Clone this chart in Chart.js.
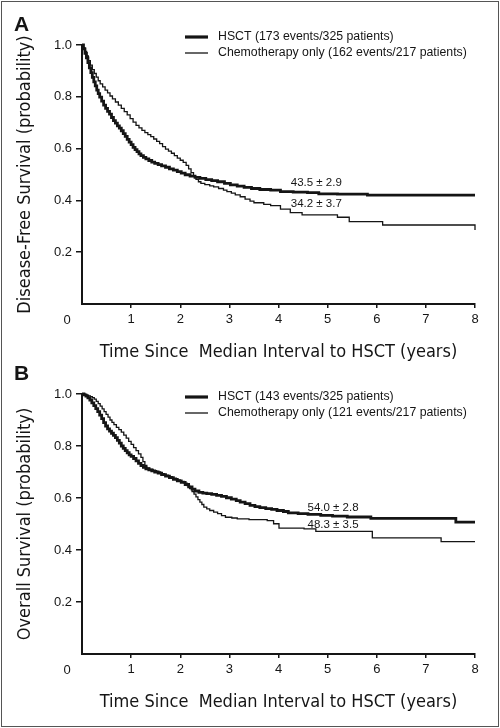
<!DOCTYPE html>
<html>
<head>
<meta charset="utf-8">
<script src="https://cdn.jsdelivr.net/npm/chart.js@4.4.1/dist/chart.umd.min.js"></script>
<style>
    html, body { margin: 0; padding: 0; background: #fff; }
    #frame { position: absolute; left: 1px; top: 1px; width: 496px; height: 724px; border: 1px solid #555; }
    canvas { position: absolute; left: 0; }
    #chartA { top: 0; }
    #chartB { top: 349px; }
</style>
</head>
<body>
<div id="frame"></div>
<canvas id="chartA" width="500" height="364"></canvas>
<canvas id="chartB" width="500" height="379"></canvas>
<script>
// 축 범위
const yearMax = 8;
const probStep = 0.2;

// A: 무병생존 (Disease-Free Survival)
const dfsHsctT = [0, 0.03, 0.06, 0.09, 0.12, 0.15, 0.18, 0.21, 0.24, 0.27, 0.30, 0.33, 0.36, 0.40, 0.44, 0.48, 0.52, 0.56, 0.60, 0.64, 0.68, 0.72, 0.76, 0.80, 0.84, 0.88, 0.92, 0.96, 1.00, 1.04, 1.08, 1.12, 1.16, 1.20, 1.25, 1.30, 1.36, 1.42, 1.48, 1.55, 1.62, 1.70, 1.78, 1.86, 1.94, 2.02, 2.10, 2.20, 2.30, 2.40, 2.52, 2.64, 2.76, 2.90, 3.02, 3.16, 3.30, 3.45, 3.62, 3.84, 4.04, 4.30, 4.59, 4.82, 5.20, 5.81, 8.0];
const dfsHsctS = [1.0, 0.985, 0.968, 0.950, 0.932, 0.912, 0.893, 0.875, 0.858, 0.842, 0.826, 0.812, 0.799, 0.783, 0.768, 0.755, 0.744, 0.733, 0.720, 0.708, 0.698, 0.688, 0.679, 0.669, 0.658, 0.647, 0.636, 0.625, 0.615, 0.605, 0.596, 0.588, 0.580, 0.573, 0.566, 0.560, 0.554, 0.548, 0.543, 0.538, 0.533, 0.528, 0.522, 0.517, 0.511, 0.505, 0.499, 0.494, 0.489, 0.485, 0.480, 0.476, 0.472, 0.466, 0.460, 0.455, 0.450, 0.446, 0.442, 0.440, 0.434, 0.432, 0.430, 0.425, 0.424, 0.420, 0.420];
const dfsChemoT = [0, 0.03, 0.06, 0.095, 0.13, 0.17, 0.21, 0.25, 0.29, 0.33, 0.37, 0.42, 0.47, 0.52, 0.57, 0.62, 0.68, 0.74, 0.80, 0.86, 0.92, 0.98, 1.04, 1.10, 1.16, 1.22, 1.28, 1.34, 1.40, 1.46, 1.52, 1.58, 1.64, 1.70, 1.76, 1.82, 1.88, 1.94, 2.00, 2.06, 2.12, 2.17, 2.22, 2.27, 2.32, 2.37, 2.42, 2.50, 2.60, 2.68, 2.78, 2.88, 2.95, 3.04, 3.12, 3.22, 3.32, 3.42, 3.50, 3.70, 3.84, 4.04, 4.24, 4.48, 5.20, 5.44, 6.12, 8.0];
const dfsChemoS = [1.0, 0.990, 0.975, 0.958, 0.940, 0.922, 0.905, 0.890, 0.876, 0.862, 0.850, 0.838, 0.826, 0.815, 0.803, 0.792, 0.780, 0.768, 0.755, 0.743, 0.730, 0.716, 0.702, 0.690, 0.680, 0.670, 0.662, 0.654, 0.646, 0.637, 0.628, 0.619, 0.608, 0.598, 0.590, 0.582, 0.573, 0.563, 0.555, 0.547, 0.535, 0.522, 0.507, 0.493, 0.481, 0.472, 0.466, 0.461, 0.456, 0.452, 0.446, 0.440, 0.434, 0.428, 0.421, 0.414, 0.405, 0.397, 0.391, 0.385, 0.380, 0.366, 0.353, 0.344, 0.335, 0.318, 0.305, 0.286];

// B: 전체생존 (Overall Survival)
const osHsctT = [0, 0.04, 0.08, 0.12, 0.16, 0.20, 0.24, 0.28, 0.32, 0.36, 0.40, 0.44, 0.48, 0.52, 0.56, 0.60, 0.64, 0.68, 0.72, 0.76, 0.80, 0.84, 0.88, 0.92, 0.96, 1.00, 1.05, 1.10, 1.15, 1.20, 1.25, 1.30, 1.36, 1.42, 1.48, 1.55, 1.62, 1.70, 1.78, 1.86, 1.94, 2.02, 2.10, 2.17, 2.24, 2.30, 2.38, 2.46, 2.54, 2.64, 2.74, 2.84, 2.94, 3.04, 3.14, 3.22, 3.32, 3.42, 3.52, 3.62, 3.74, 3.86, 3.97, 4.10, 4.20, 4.40, 4.60, 4.86, 5.10, 5.40, 5.88, 7.61, 8.0];
const osHsctS = [1.0, 0.997, 0.992, 0.985, 0.977, 0.966, 0.955, 0.944, 0.932, 0.919, 0.905, 0.890, 0.877, 0.866, 0.857, 0.849, 0.841, 0.832, 0.822, 0.811, 0.800, 0.791, 0.782, 0.774, 0.766, 0.760, 0.752, 0.743, 0.733, 0.725, 0.718, 0.712, 0.708, 0.704, 0.700, 0.696, 0.690, 0.684, 0.678, 0.672, 0.666, 0.660, 0.652, 0.643, 0.634, 0.627, 0.622, 0.619, 0.617, 0.614, 0.610, 0.606, 0.601, 0.596, 0.590, 0.584, 0.578, 0.572, 0.567, 0.563, 0.559, 0.556, 0.552, 0.548, 0.543, 0.540, 0.537, 0.533, 0.530, 0.527, 0.522, 0.507, 0.507];
const osChemoT = [0, 0.06, 0.12, 0.17, 0.21, 0.25, 0.29, 0.33, 0.37, 0.41, 0.45, 0.49, 0.53, 0.57, 0.61, 0.65, 0.70, 0.75, 0.80, 0.85, 0.90, 0.95, 1.00, 1.05, 1.10, 1.15, 1.20, 1.24, 1.28, 1.32, 1.38, 1.45, 1.52, 1.60, 1.68, 1.76, 1.84, 1.92, 2.00, 2.08, 2.14, 2.19, 2.24, 2.28, 2.32, 2.36, 2.40, 2.44, 2.48, 2.54, 2.60, 2.68, 2.76, 2.84, 2.92, 3.05, 3.16, 3.40, 3.77, 3.90, 4.01, 4.52, 4.76, 5.91, 7.31, 8.0];
const osChemoS = [1.0, 0.997, 0.993, 0.990, 0.986, 0.980, 0.972, 0.963, 0.953, 0.943, 0.932, 0.922, 0.911, 0.900, 0.891, 0.882, 0.872, 0.863, 0.853, 0.842, 0.830, 0.818, 0.806, 0.794, 0.782, 0.770, 0.756, 0.740, 0.725, 0.716, 0.710, 0.705, 0.700, 0.694, 0.688, 0.682, 0.676, 0.670, 0.664, 0.657, 0.648, 0.636, 0.625, 0.615, 0.604, 0.594, 0.584, 0.575, 0.565, 0.558, 0.552, 0.546, 0.540, 0.532, 0.526, 0.523, 0.520, 0.517, 0.513, 0.501, 0.484, 0.481, 0.472, 0.447, 0.432, 0.432];

const legendA = ['HSCT (173 events/325 patients)', 'Chemotherapy only (162 events/217 patients)'];
const legendB = ['HSCT (143 events/325 patients)', 'Chemotherapy only (121 events/217 patients)'];
const noteA = ['43.5 \u00b1 2.9', '34.2 \u00b1 3.7'];
const noteB = ['54.0 \u00b1 2.8', '48.3 \u00b1 3.5'];

const xTitle = 'Time Since  Median Interval to HSCT (years)';

const BASE_FONT = '"Liberation Sans", Arial, Helvetica, sans-serif';
const NARROW_FONT = '"Liberation Sans Narrow", "DejaVu Sans Condensed", "Liberation Sans", sans-serif';
const INK = '#151515';

Chart.defaults.font.family = BASE_FONT;
Chart.defaults.color = INK;

function toPoints(t, s) {
    return t.map((v, i) => ({x: v, y: s[i]}));
}

function hideZero(ctx) {
    return ctx.tick && ctx.tick.value === 0 ? 'rgba(0,0,0,0)' : INK;
}

// 범례, 패널 문자, 5년 생존율 표기
function decor(letter, legend, legendTop, notes) {
    return {
        id: 'decor',
        afterDraw(chart) {
            const ctx = chart.ctx;
            const xs = chart.scales.x;
            const ys = chart.scales.y;
            ctx.save();
            ctx.fillStyle = INK;
            ctx.strokeStyle = INK;

            ctx.font = 'bold 21px ' + BASE_FONT;
            ctx.textAlign = 'left';
            ctx.textBaseline = 'middle';
            ctx.fillText(letter, 14, 25);

            ctx.font = '13px ' + BASE_FONT;
            ctx.textAlign = 'center';
            ctx.fillText('0', xs.getPixelForValue(0) - 15, ys.bottom + 16);

            ctx.font = '12.3px ' + BASE_FONT;
            ctx.textAlign = 'left';
            legend.forEach((txt, i) => {
                const yy = legendTop + i * 16;
                ctx.lineWidth = i === 0 ? 3.2 : 1.3;
                ctx.beginPath();
                ctx.moveTo(185, yy);
                ctx.lineTo(208, yy);
                ctx.stroke();
                ctx.fillText(txt, 218, yy);
            });

            ctx.font = '11.5px ' + BASE_FONT;
            ctx.textAlign = 'center';
            notes.forEach(n => {
                ctx.fillText(n.text, xs.getPixelForValue(n.x), ys.getPixelForValue(n.y));
            });
            ctx.restore();
        }
    };
}

function makeChart(id, opt) {
    return new Chart(document.getElementById(id), {
        type: 'line',
        data: {
            datasets: [
                {
                    label: 'HSCT',
                    data: toPoints(opt.hsctT, opt.hsctS),
                    borderColor: INK,
                    borderWidth: 2.8,
                    stepped: true,
                    pointRadius: 0,
                    fill: false,
                    clip: 4
                },
                {
                    label: 'Chemotherapy only',
                    data: toPoints(opt.chemoT, opt.chemoS),
                    borderColor: INK,
                    borderWidth: 1.3,
                    stepped: true,
                    pointRadius: 0,
                    fill: false,
                    clip: 4
                }
            ]
        },
        options: {
            responsive: false,
            animation: false,
            layout: {padding: {left: 0, right: 25, top: 45, bottom: opt.padBottom}},
            plugins: {
                legend: {display: false},
                tooltip: {enabled: false}
            },
            scales: {
                x: {
                    type: 'linear',
                    min: 0,
                    max: yearMax,
                    afterFit: s => { s.height = 60; },
                    border: {display: true, color: INK, width: 2},
                    grid: {
                        drawOnChartArea: false,
                        drawTicks: true,
                        tickLength: 4,
                        lineWidth: 1.5,
                        color: hideZero,
                        tickColor: hideZero
                    },
                    ticks: {
                        stepSize: 1,
                        padding: 4,
                        font: {size: 13},
                        maxRotation: 0,
                        callback: v => v === 0 ? '' : v
                    },
                    title: {
                        display: true,
                        text: xTitle,
                        font: {family: NARROW_FONT, size: 18},
                        padding: {top: 0, bottom: 0.5}
                    }
                },
                y: {
                    min: 0,
                    max: 1,
                    afterFit: s => { s.width = 82; },
                    border: {display: true, color: INK, width: 2},
                    grid: {
                        drawOnChartArea: false,
                        drawTicks: true,
                        tickLength: 6,
                        lineWidth: 1.5,
                        color: hideZero,
                        tickColor: hideZero
                    },
                    ticks: {
                        stepSize: probStep,
                        padding: 4,
                        font: {size: 13},
                        callback: v => v === 0 ? '' : v.toFixed(1)
                    },
                    title: {
                        display: true,
                        text: opt.yTitle,
                        font: {family: NARROW_FONT, size: 18},
                        padding: {top: 15, bottom: 0}
                    }
                }
            }
        },
        plugins: [decor(opt.letter, opt.legend, opt.legendTop, opt.notes)]
    });
}

makeChart('chartA', {
    letter: 'A',
    yTitle: 'Disease-Free Survival (probability)',
    hsctT: dfsHsctT, hsctS: dfsHsctS,
    chemoT: dfsChemoT, chemoS: dfsChemoS,
    legend: legendA,
    legendTop: 37,
    notes: [{text: noteA[0], x: 4.77, y: 0.467}, {text: noteA[1], x: 4.77, y: 0.386}],
    padBottom: 0
});

makeChart('chartB', {
    letter: 'B',
    yTitle: 'Overall Survival (probability)',
    hsctT: osHsctT, hsctS: osHsctS,
    chemoT: osChemoT, chemoS: osChemoS,
    legend: legendB,
    legendTop: 48,
    notes: [{text: noteB[0], x: 5.11, y: 0.564}, {text: noteB[1], x: 5.11, y: 0.498}],
    padBottom: 14
});
</script>
</body>
</html>
